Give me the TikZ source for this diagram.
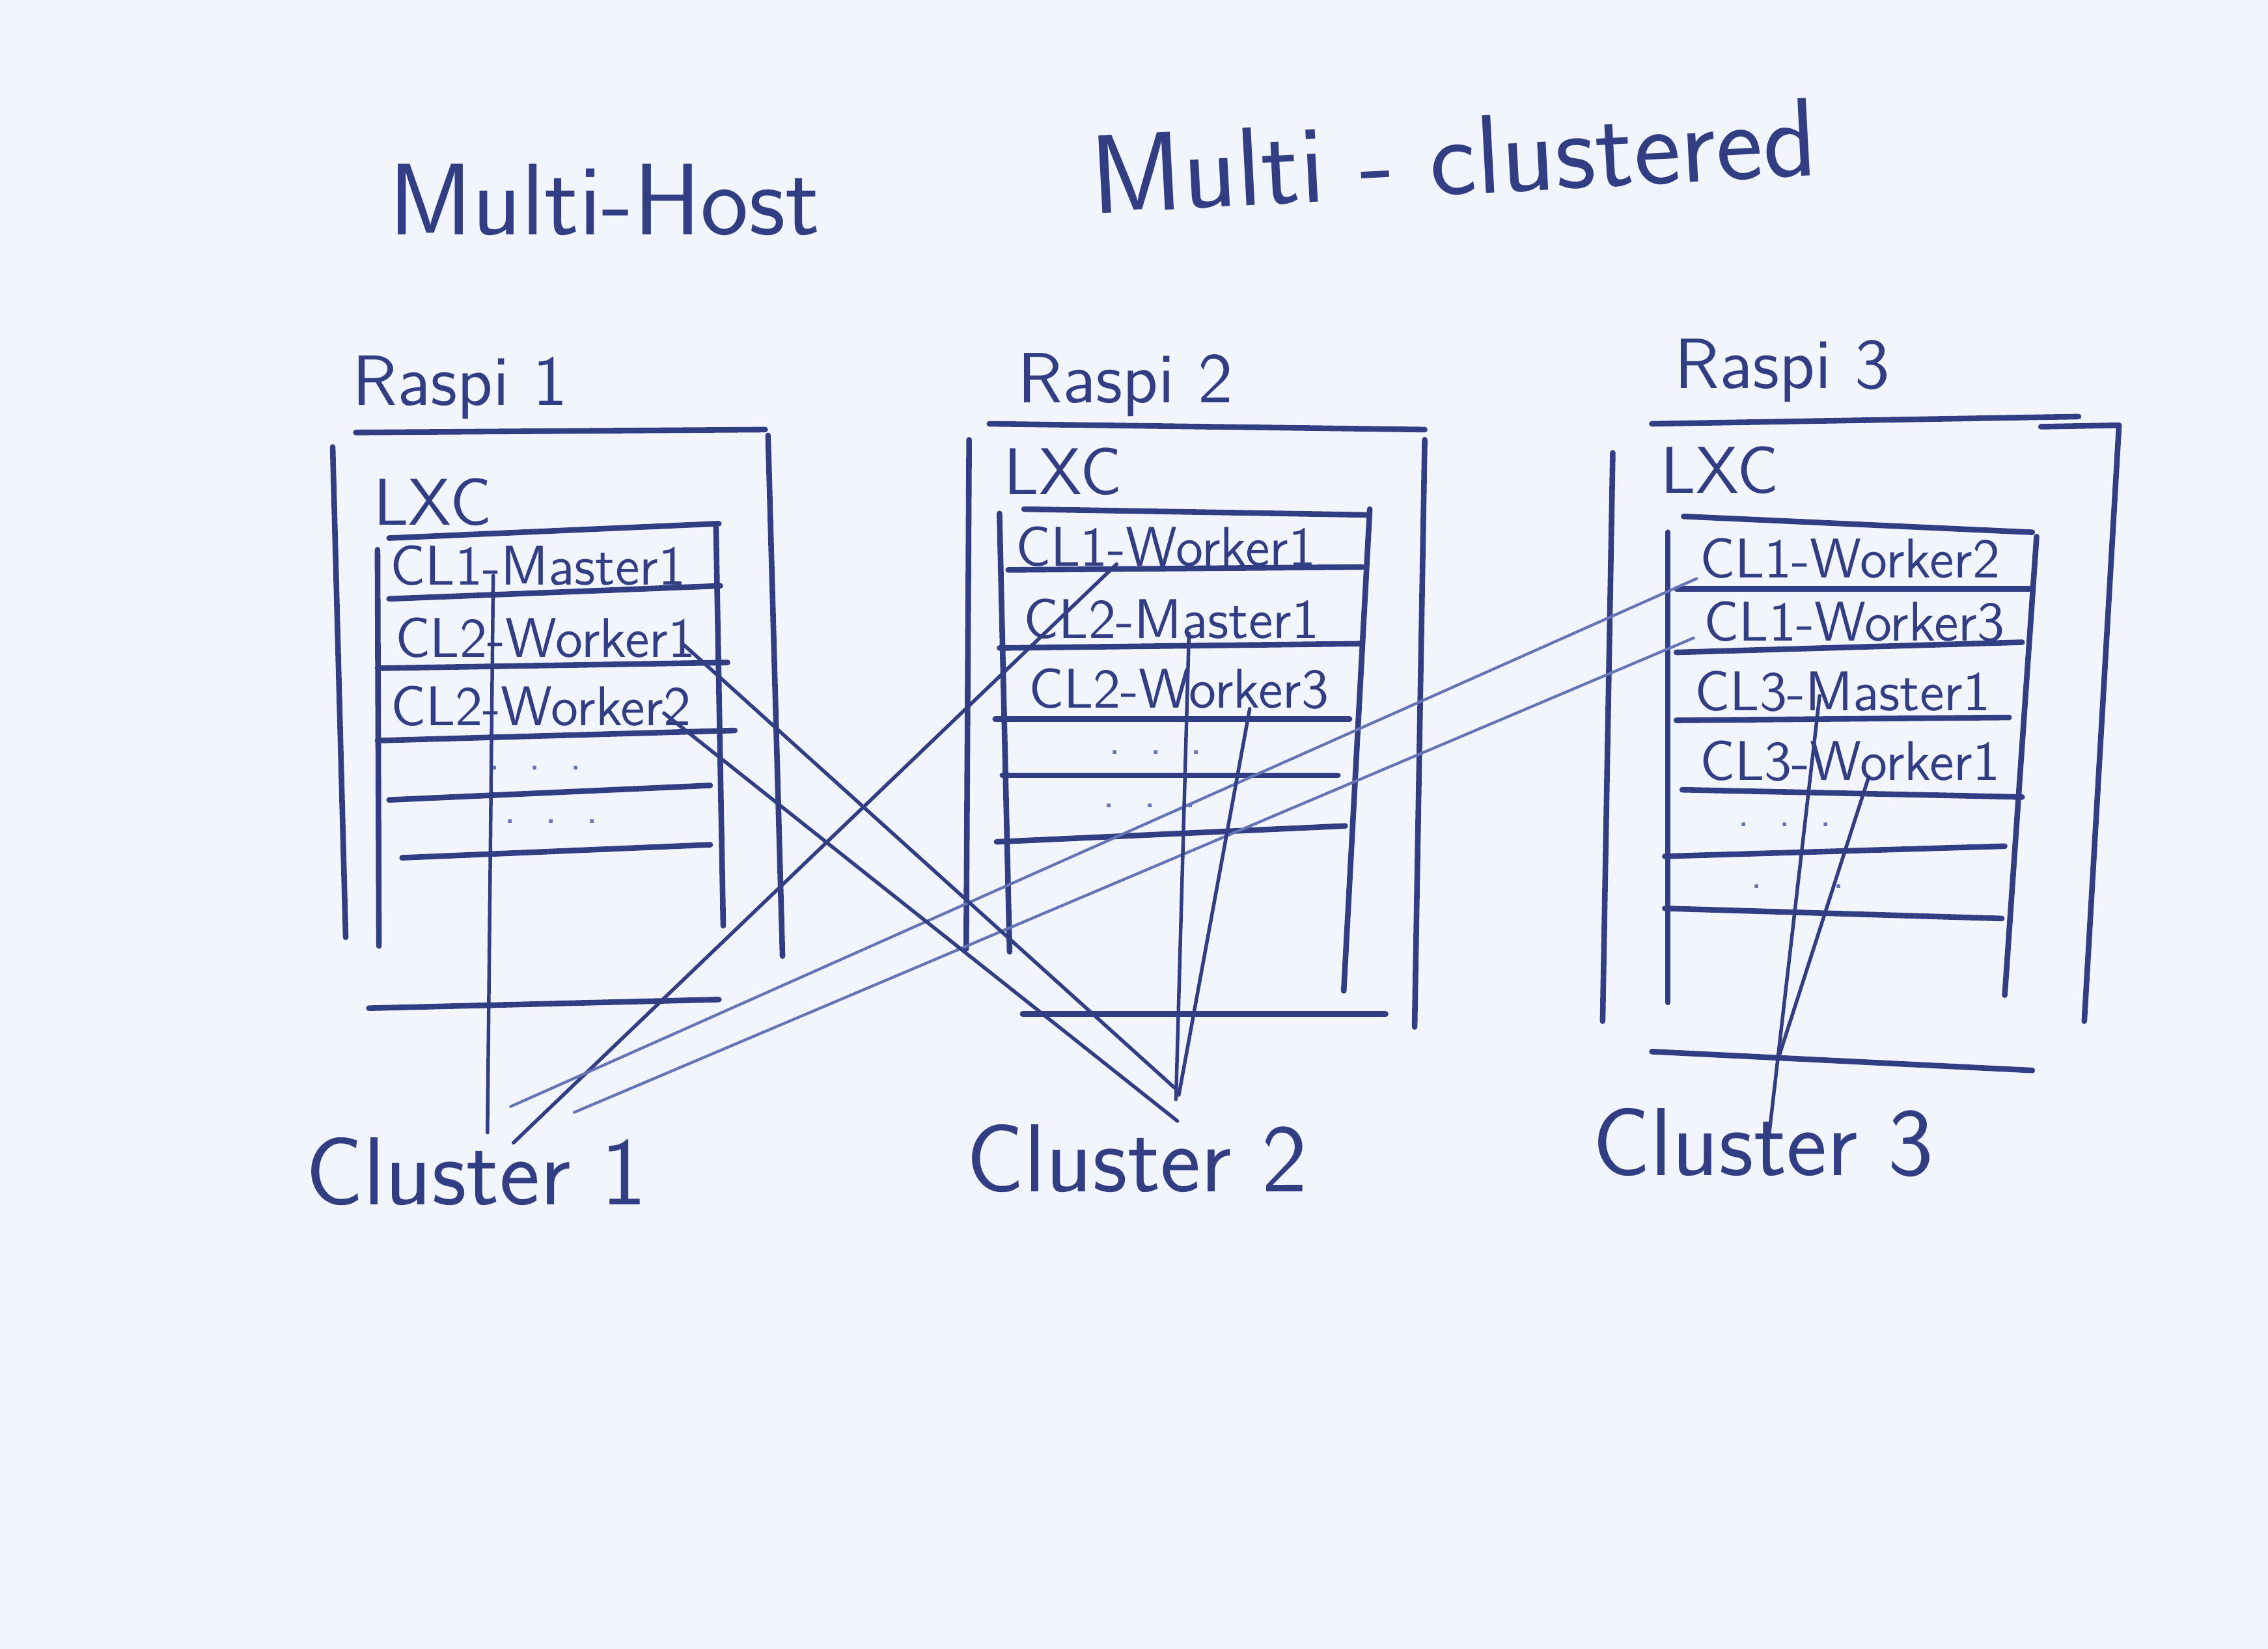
\documentclass[tikz,border=0pt]{standalone}
\usepackage{tikz}
\definecolor{ink}{RGB}{50,62,132}
\definecolor{inklight}{RGB}{100,116,182}
\definecolor{paper}{RGB}{243,245,252}
\tikzset{node distance=10em, auto}
\tikzset{
	pen/.style={draw=ink, line width=1.1pt, line cap=round, line join=round},
	fine/.style={draw=ink, line width=0.7pt, line cap=round},
	faint/.style={draw=inklight, line width=0.55pt, line cap=round},
	hand/.style={text=ink, inner sep=0pt, font=\sffamily\fontsize{11}{13}\selectfont},
	lxc/.style={text=ink, inner sep=0pt, font=\sffamily\fontsize{13}{15}\selectfont},
	host/.style={text=ink, inner sep=0pt, font=\sffamily\fontsize{14}{17}\selectfont},
	clu/.style={text=ink, inner sep=0pt, font=\sffamily\fontsize{19}{22}\selectfont},
	head/.style={text=ink, inner sep=0pt, font=\sffamily\fontsize{20}{24}\selectfont},
	dots/.style={text=inklight, inner sep=0pt, font=\sffamily\fontsize{8}{9}\selectfont}
}

\begin{document}
\begin{tikzpicture}[x=0.01cm, y=-0.01cm]
			\fill[paper] (0,0) rectangle (1568,1140);
			\useasboundingbox (0,0) rectangle (1568,1140);
			%
			\node[head] (T1) at (418,138) 							{Multi-Host};
			\node[head, rotate=3, font=\sffamily\fontsize{22}{26}\selectfont] (T2) at (1005,108) 	{Multi - clustered};
			%
			\node[host] (R1) at (318,268) 	{Raspi 1};
			\node[host] (R2) at (778,266) 	{Raspi 2};
			\node[host] (R3) at (1232,256) 	{Raspi 3};
			\node[lxc] (L1) at (299,347) 		{LXC};
			\node[lxc] (L2) at (735,326) 		{LXC};
			\node[lxc] (L3) at (1189,325) 	{LXC};
			%
			\node[hand] (A1) at (372,391) 	{CL1-Master1};
			\node[hand] (A2) at (377,441) 	{CL2-Worker1};
			\node[hand] (A3) at (374,488) 	{CL2-Worker2};
			\node[hand] (B1) at (806,378) 	{CL1-Worker1};
			\node[hand] (B2) at (810,428) 	{CL2-Master1};
			\node[hand] (B3) at (815,476) 	{CL2-Worker3};
			\node[hand] (C1) at (1279,386) 	{CL1-Worker2};
			\node[hand] (C2) at (1282,430) 	{CL1-Worker3};
			\node[hand] (C3) at (1274,478) 	{CL3-Master1};
			\node[hand] (C4) at (1279,526) 	{CL3-Worker1};
			\node[dots] (D1) at (370,531) 	{.\ \ .\ \ .};
			\node[dots] (D2) at (381,568) 	{.\ \ .\ \ .};
			\node[dots] (D3) at (799,520) 	{.\ \ .\ \ .};
			\node[dots] (D4) at (795,557) 	{.\ \ .\ \ .};
			\node[dots] (D5) at (1234,570) 	{.\ \ .\ \ .};
			\node[dots] (D6) at (1243,613) 	{.\ \ .\ \ .};
			%
			\node[clu] (K1) at (329,810) 		{Cluster 1};
			\node[clu] (K2) at (786,801) 		{Cluster 2};
			\node[clu] (K3) at (1219,790) 	{Cluster 3};
			%
			% Raspi 1
			\draw[pen] (246,299) -- (529,297);
			\draw[pen] (230,309) -- (239,648);
			\draw[pen] (531,301) -- (541,661);
			\draw[pen] (269,372) -- (497,362);
			\draw[pen] (261,380) -- (262,654);
			\draw[pen] (495,364) -- (500,640);
			\draw[pen] (269,414) -- (498,405);
			\draw[pen] (261,462) -- (503,458);
			\draw[pen] (261,512) -- (508,505);
			\draw[pen] (269,553) -- (491,543);
			\draw[pen] (278,593) -- (491,584);
			\draw[pen] (255,697) -- (497,691);
			% Raspi 2
			\draw[pen] (684,293) -- (985,297);
			\draw[pen] (670,304) -- (668,656);
			\draw[pen] (985,304) -- (978,710);
			\draw[pen] (708,352) -- (946,356);
			\draw[pen] (691,355) -- (698,658);
			\draw[pen] (947,352) -- (929,685);
			\draw[pen] (697,394) -- (942,392);
			\draw[pen] (691,448) -- (940,445);
			\draw[pen] (688,497) -- (933,497);
			\draw[pen] (693,536) -- (925,536);
			\draw[pen] (689,582) -- (930,571);
			\draw[pen] (707,701) -- (958,701);
			% Raspi 3
			\draw[pen] (1142,293) -- (1437,288);
			\draw[pen] (1411,295) -- (1465,294) -- (1441,706);
			\draw[pen] (1115,313) -- (1108,706);
			\draw[pen] (1164,357) -- (1405,368);
			\draw[pen] (1153,368) -- (1153,693);
			\draw[pen] (1408,371) -- (1386,688);
			\draw[pen] (1159,407) -- (1403,407);
			\draw[pen] (1159,451) -- (1398,444);
			\draw[pen] (1159,498) -- (1389,496);
			\draw[pen] (1163,546) -- (1398,551);
			\draw[pen] (1151,592) -- (1386,585);
			\draw[pen] (1151,628) -- (1384,635);
			\draw[pen] (1142,727) -- (1405,740);
			%
			\draw[fine]		([shift={(-31,7)}]A1.center) 		-- ([shift={(8,-27)}]K1.center);
			\draw[fine]		([shift={(-34,12)}]B1.center) 	-- ([shift={(26,-20)}]K1.center);
			\draw[faint]	([shift={(-106,14)}]C1.center) 	-- ([shift={(24,-45)}]K1.center);
			\draw[faint]	([shift={(-111,11)}]C2.center) 	-- ([shift={(68,-41)}]K1.center);
			\draw[fine]		([shift={(96,5)}]A2.center) 		-- ([shift={(26,-49)}]K2.center);
			\draw[fine]		([shift={(85,5)}]A3.center) 		-- ([shift={(28,-26)}]K2.center);
			\draw[fine]		([shift={(12,10)}]B2.center) 		-- ([shift={(27,-41)}]K2.center);
			\draw[fine]		([shift={(49,14)}]B3.center) 		-- ([shift={(29,-44)}]K2.center);
			\draw[fine]		([shift={(-16,3)}]C3.center) 		-- ([shift={(4,-5)}]K3.center);
			\draw[fine]		([shift={(13,11)}]C4.center) 		-- ([shift={(11,-60)}]K3.center);
		\end{tikzpicture}
\end{document}
